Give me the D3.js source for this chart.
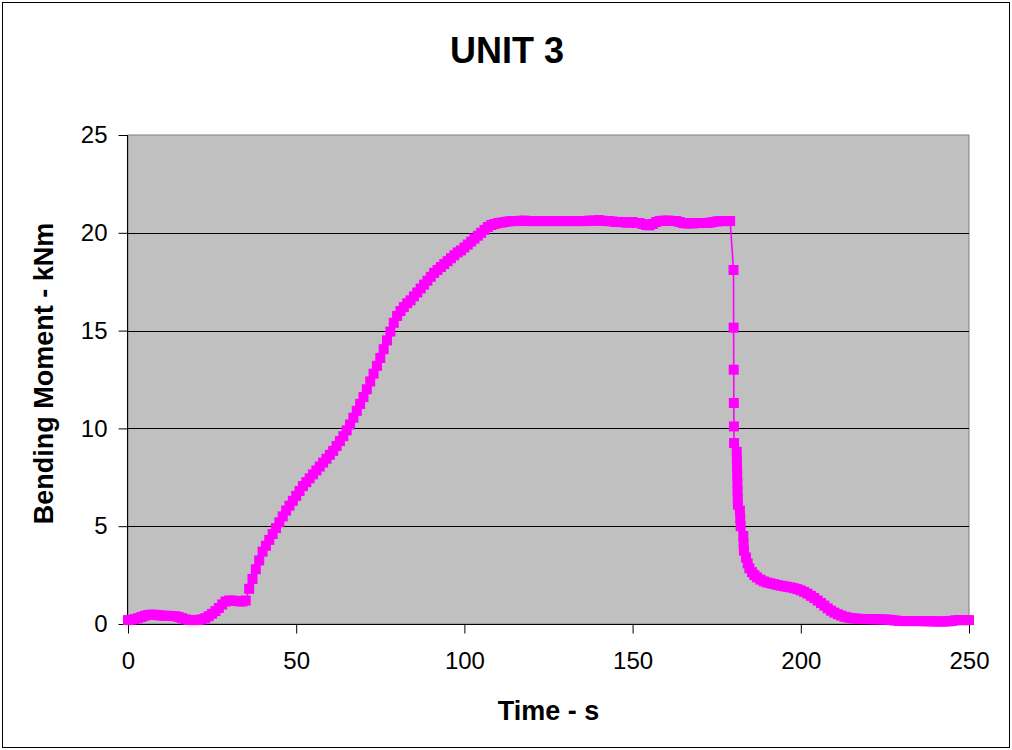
<!DOCTYPE html>
<html>
<head>
<meta charset="utf-8">
<script src="https://cdn.jsdelivr.net/npm/d3@7"></script>
<style>
  html, body { margin: 0; padding: 0; background: #fff; }
  svg { display: block; font-family: Arial, "Liberation Sans", sans-serif; }
</style>
</head>
<body>
<svg id="chart" width="1012" height="750"></svg>
<script>
// Bending moment (kNm) logged once per second during the loading run, 0–114 s
const rampMoment = [
  0.2, 0.22, 0.25, 0.3, 0.36,
  0.42, 0.46, 0.48, 0.47, 0.45,
  0.43, 0.42, 0.42, 0.41, 0.4,
  0.36, 0.3, 0.24, 0.21, 0.2,
  0.2, 0.21, 0.24, 0.3, 0.4,
  0.52, 0.66, 0.82, 1.0, 1.15,
  1.2, 1.2, 1.18, 1.16, 1.15,
  1.2, 1.8, 2.3, 2.8, 3.25,
  3.7, 4.0, 4.3, 4.6, 4.9,
  5.2, 5.5, 5.8, 6.05, 6.3,
  6.55, 6.8, 7.05, 7.25, 7.45,
  7.65, 7.85, 8.05, 8.25, 8.45,
  8.65, 8.85, 9.1, 9.35, 9.6,
  9.9, 10.2, 10.55, 10.9, 11.25,
  11.6, 12.0, 12.4, 12.8, 13.2,
  13.6, 14.05, 14.5, 14.95, 15.4,
  15.75, 16.0, 16.2, 16.4, 16.55,
  16.75, 16.95, 17.15, 17.35, 17.55,
  17.75, 17.95, 18.1, 18.25, 18.4,
  18.55, 18.7, 18.85, 19.0, 19.1,
  19.25, 19.4, 19.55, 19.7, 19.85,
  20.0, 20.15, 20.3, 20.4, 20.45,
  20.5, 20.52, 20.55, 20.58, 20.6
];

// Hold at full load, 115–179 s
const holdMoment = [
  20.6, 20.6, 20.62, 20.62, 20.6,
  20.6, 20.6, 20.6, 20.6, 20.6,
  20.6, 20.6, 20.6, 20.6, 20.6,
  20.6, 20.6, 20.6, 20.6, 20.6,
  20.6, 20.6, 20.62, 20.62, 20.62,
  20.65, 20.62, 20.6, 20.6, 20.58,
  20.55, 20.55, 20.55, 20.52, 20.52,
  20.55, 20.5, 20.5, 20.45, 20.4,
  20.38, 20.45, 20.55, 20.6, 20.62,
  20.62, 20.62, 20.6, 20.6, 20.55,
  20.5, 20.48, 20.48, 20.48, 20.5,
  20.5, 20.5, 20.5, 20.52, 20.55,
  20.58, 20.6, 20.6, 20.6, 20.6
];

// Release: fast-logged samples while the load drops
const releaseTime = [
  180.0, 180.03, 180.06, 180.09, 180.12, 180.15,
  180.95, 181.0, 181.05, 181.1, 181.15, 181.2, 181.25, 181.3,
  181.9, 182.0, 182.1,
  182.9, 183.0, 183.1,
  183.7, 184.2, 184.7, 185.5, 186.2, 187, 188, 189
];
const releaseMoment = [
  18.1, 15.15, 13.0, 11.3, 10.1, 9.25,
  8.8, 8.4, 8.0, 7.6, 7.2, 6.8, 6.4, 6.1,
  5.8, 5.4, 5.0,
  4.5, 4.1, 3.75,
  3.4, 3.1, 2.85, 2.65, 2.5, 2.38, 2.27, 2.18
];

// Unloaded tail, once per second, 190–250 s
const tailMoment = [
  2.12, 2.08, 2.04, 2.0, 1.96,
  1.93, 1.9, 1.87, 1.83, 1.78,
  1.72, 1.64, 1.55, 1.44, 1.33,
  1.2, 1.07, 0.94, 0.8, 0.68,
  0.58, 0.5, 0.43, 0.37, 0.33,
  0.3, 0.28, 0.27, 0.26, 0.25,
  0.25, 0.25, 0.24, 0.24, 0.24,
  0.23, 0.22, 0.2, 0.18, 0.16,
  0.15, 0.15, 0.15, 0.15, 0.15,
  0.15, 0.15, 0.14, 0.14, 0.14,
  0.13, 0.13, 0.13, 0.13, 0.14,
  0.16, 0.19, 0.2, 0.2, 0.2,
  0.2
];

const xTicks = [0, 50, 100, 150, 200, 250];
const yTicks = [0, 5, 10, 15, 20, 25];

const titleText = "UNIT 3";
const xTitle = "Time - s";
const yTitle = "Bending Moment - kNm";

// Assemble (time, moment) samples
const data = [];
rampMoment.forEach((v, i) => data.push({ t: i, v }));
holdMoment.forEach((v, i) => data.push({ t: 115 + i, v }));
releaseTime.forEach((t, i) => data.push({ t, v: releaseMoment[i] }));
tailMoment.forEach((v, i) => data.push({ t: 190 + i, v }));

const svg = d3.select("#chart");
const W = 1012, H = 750;
const plot = { left: 128, right: 969, top: 135, bottom: 624 };

const x = d3.scaleLinear().domain([0, 250]).range([plot.left, plot.right]);
const y = d3.scaleLinear().domain([0, 25]).range([plot.bottom, plot.top]);

// Chart frame
svg.append("rect")
  .attr("x", 2.5).attr("y", 2.5)
  .attr("width", W - 5).attr("height", H - 5)
  .attr("fill", "#fff").attr("stroke", "#000").attr("stroke-width", 1);

// Plot area
svg.append("rect")
  .attr("x", plot.left).attr("y", plot.top)
  .attr("width", plot.right - plot.left).attr("height", plot.bottom - plot.top)
  .attr("fill", "#C0C0C0").attr("stroke", "#808080").attr("stroke-width", 1);

// Horizontal gridlines
svg.append("g")
  .selectAll("line")
  .data(yTicks.filter(d => d > 0 && d < 25))
  .join("line")
  .attr("x1", plot.left).attr("x2", plot.right)
  .attr("y1", d => Math.round(y(d)) + 0.5).attr("y2", d => Math.round(y(d)) + 0.5)
  .attr("stroke", "#000").attr("stroke-width", 1);

// Axes
const xAxis = d3.axisBottom(x).tickValues(xTicks).tickSize(9).tickPadding(18).tickFormat(d3.format("d"));
const yAxis = d3.axisLeft(y).tickValues(yTicks).tickSize(9).tickPadding(11).tickFormat(d3.format("d"));

const gx = svg.append("g").attr("transform", `translate(0,${plot.bottom + 0.5})`).call(xAxis);
const gy = svg.append("g").attr("transform", `translate(${plot.left - 0.5},0)`).call(yAxis);

[gx, gy].forEach(g => {
  g.select(".domain").attr("stroke", "#000").attr("stroke-width", 1);
  g.selectAll(".tick line").attr("stroke", "#000");
  g.selectAll(".tick text")
    .attr("fill", "#000")
    .style("font-size", "24px")
    .style("font-family", "Arial, 'Liberation Sans', sans-serif");
});
gx.select(".domain").attr("d", `M${plot.left},0H${plot.right}`);
gy.select(".domain").attr("d", `M0,${plot.top}V${plot.bottom}`);

// Series line
const line = d3.line().x(d => x(d.t)).y(d => y(d.v));
svg.append("path")
  .datum(data)
  .attr("d", line)
  .attr("fill", "none")
  .attr("stroke", "#FF00FF")
  .attr("stroke-width", 1.6);

// Square markers
const ms = 10;
svg.append("g")
  .selectAll("rect")
  .data(data)
  .join("rect")
  .attr("x", d => x(d.t) - ms / 2)
  .attr("y", d => y(d.v) - ms / 2)
  .attr("width", ms).attr("height", ms)
  .attr("fill", "#FF00FF");

// Titles
svg.append("text")
  .attr("x", 507).attr("y", 63)
  .attr("text-anchor", "middle")
  .style("font-size", "36px").style("font-weight", "bold")
  .text(titleText);

svg.append("text")
  .attr("x", (plot.left + plot.right) / 2).attr("y", 720)
  .attr("text-anchor", "middle")
  .style("font-size", "27px").style("font-weight", "bold")
  .text(xTitle);

svg.append("text")
  .attr("transform", `translate(53,${(plot.top + plot.bottom) / 2 - 6}) rotate(-90)`)
  .attr("text-anchor", "middle")
  .style("font-size", "27px").style("font-weight", "bold")
  .text(yTitle);
</script>
</body>
</html>
